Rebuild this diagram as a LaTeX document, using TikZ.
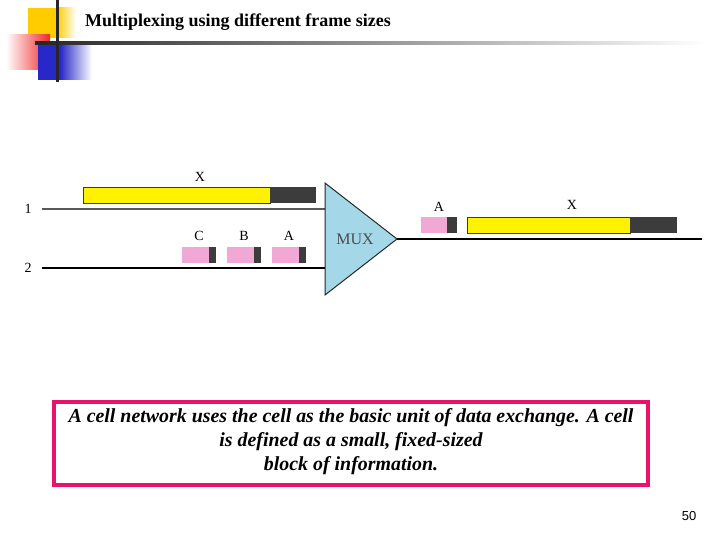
\documentclass[tikz,border=0pt]{standalone}
\usepackage{fontspec}
\setmainfont{Liberation Serif}
\newfontfamily\sansf{Liberation Sans}
\definecolor{muxblue}{RGB}{164,216,232}
\definecolor{cellpink}{RGB}{242,168,212}
\definecolor{darkcell}{RGB}{60,60,60}
\definecolor{boxpink}{RGB}{232,20,108}
\definecolor{logoyel}{RGB}{255,204,0}
\definecolor{logored}{RGB}{240,40,40}
\definecolor{logoblue}{RGB}{40,40,200}
\begin{document}
\begin{tikzpicture}[x=1pt,y=-1pt,
  lbl/.style={inner sep=0pt,font=\fontsize{14}{16}\selectfont},
  pinkc/.style={fill=cellpink,draw=none},
  hdr/.style={fill=darkcell,draw=none},
  wire/.style={line width=1.3pt}]
\useasboundingbox (0,0) rectangle (720,540);
% logo
\fill[logoyel] (28,8) rectangle (57,38);
\shade[left color=logoyel,right color=white] (57,8) rectangle (76,38);
\shade[left color=white,right color=logored] (6,35) rectangle (50,70);
\fill[logoblue] (38,43) rectangle (60,80);
\shade[left color=logoblue,right color=white] (60,43) rectangle (92,80);
\shade[left color=black!85,right color=white] (35,42) rectangle (705,45);
\fill[black!85] (56,0) rectangle (59,82);
\node[anchor=west,inner sep=0pt,font=\fontsize{18}{20}\selectfont\bfseries] (title) at (85,22) {Multiplexing using different frame sizes};
% inputs
\node[lbl] (n1) at (28,209) {1};
\node[lbl] (n2) at (28,268) {2};
\coordinate (m1) at (325,183);
\coordinate (m2) at (325,295);
\coordinate (m3) at (397,239);
\coordinate (in1) at (325,209);
\coordinate (in2) at (325,268);
\coordinate (oend) at (702,239);
\draw[wire,draw=black!65,line width=1.1pt] (n1.east)++(10,0) -- (in1);
\draw[wire,draw=black] (n2.east)++(10,0) -- (in2);
\draw[fill=muxblue,draw=black!85,line width=1pt] (m1) -- (m3) -- (m2) -- cycle;
\node[inner sep=0pt,font=\fontsize{16}{18}\selectfont,text=black!70] (mux) at (355,239) {MUX};
\draw[wire,draw=black,line width=1.5pt] (m3) -- (oend);
% input frame X
\fill[yellow,draw=darkcell,line width=0.6pt] (83,187) rectangle (270,203);
\fill[hdr] (270,187) rectangle (316,203);
\node[lbl] (x1) at (200,177) {X};
% cells C B A
\fill[pinkc] (182,247) rectangle (209,263); \fill[hdr] (209,247) rectangle (216,263);
\fill[pinkc] (227,247) rectangle (254,263); \fill[hdr] (254,247) rectangle (261,263);
\fill[pinkc] (272,247) rectangle (299,263); \fill[hdr] (299,247) rectangle (306,263);
\node[lbl] (lc) at (199,236) {C};
\node[lbl] (lb) at (244,236) {B};
\node[lbl] (la) at (289,236) {A};
% output
\fill[pinkc] (421,217) rectangle (447,233); \fill[hdr] (447,217) rectangle (457,233);
\node[lbl] (oa) at (439,207) {A};
\fill[yellow,draw=darkcell,line width=0.6pt] (467,217) rectangle (630,233);
\fill[hdr] (630,217) rectangle (677,233);
\node[lbl] (ox) at (572,205) {X};
% text box
\node[draw=boxpink,line width=4.5pt,minimum width=594pt,minimum height=83pt,inner sep=0pt] (box) at (351,443.5) {};
\node[align=center,inner sep=0pt,font=\fontsize{19.9}{24}\selectfont\bfseries\itshape] (txt) at (351,442) {A cell network uses the cell as the basic unit of data exchange. A cell\\ is defined as a small, fixed-sized\\ block of information.};
\node[inner sep=0pt,font=\sansf\fontsize{13}{15}\selectfont] (pg) at (689,516) {50};
\end{tikzpicture}
\end{document}
